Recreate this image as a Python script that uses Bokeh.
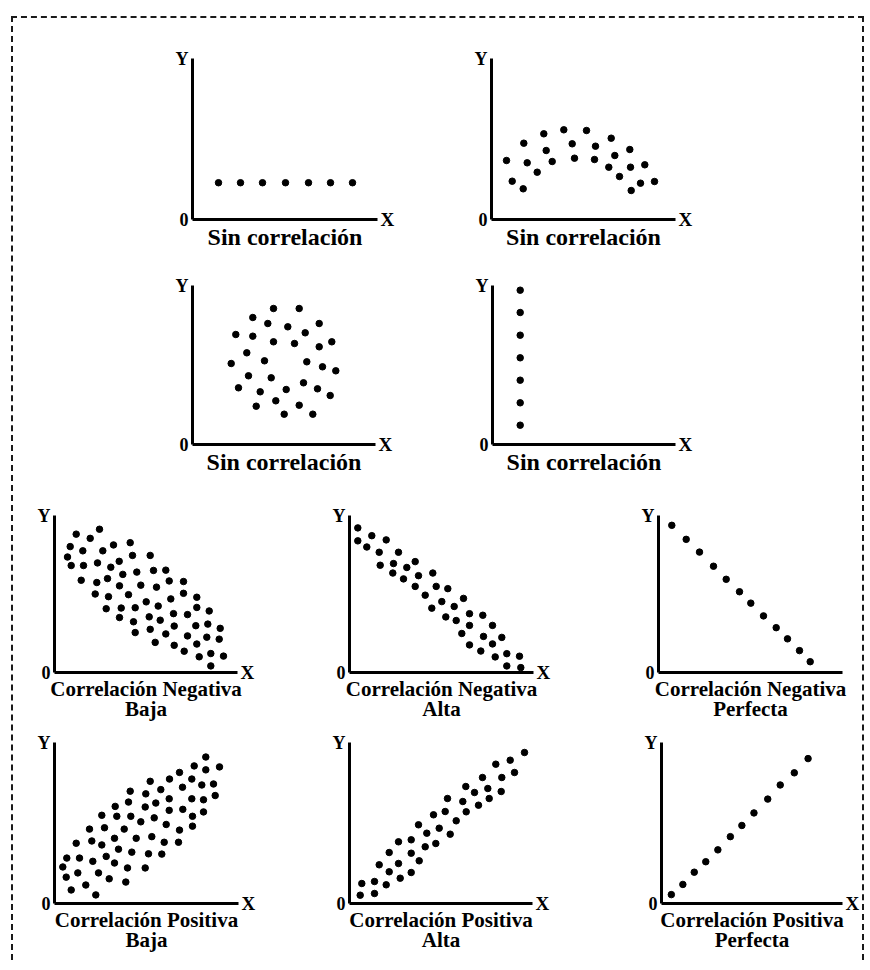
from bokeh.plotting import figure
from bokeh.models import Range1d, Spacer, FixedTicker, LinearAxis
from bokeh.layouts import row, column
from bokeh.embed import file_html
from bokeh.resources import INLINE

# ---------------- data (units = offset from the origin) -------------
titles = {
    "A": "Sin correlación", "B": "Sin correlación", "C": "Sin correlación", "D": "Sin correlación",
    "E": "Correlación Negativa\nBaja", "F": "Correlación Negativa\nAlta", "G": "Correlación Negativa\nPerfecta",
    "H": "Correlación Positiva\nBaja", "I": "Correlación Positiva\nAlta", "J": "Correlación Positiva\nPerfecta",
}
axis_names = {"y": "Y", "x": "X", "origin": "0"}

a_x = [26, 48, 70, 93, 116, 138, 160]
a_y = [37, 37, 37, 37, 37, 37, 37]

b_x = [15, 20.7, 31.7, 32.3, 35.7, 45.7, 52.3, 54.7, 60.7, 72.3, 80.7, 83, 95, 104, 103, 119.7, 123.3,
       117.3, 128, 138.3, 139, 139.7, 149, 153.3, 163]
b_y = [59, 38.3, 30.7, 76.3, 56.7, 47.3, 85.7, 69, 58, 89.7, 75.7, 61.3, 89, 73.3, 60, 81.3, 64,
       52.3, 43, 70, 52.3, 29, 36.3, 54.7, 38]

c_x = [81, 106.7, 60.3, 75.3, 126.7, 95.3, 43.3, 60.3, 112.7, 81, 102, 139.3, 126.7, 54.3, 38.7, 72,
       114.3, 130, 143.3, 56, 78.7, 111, 46, 67.7, 93.7, 125, 137.7, 83.3, 63.7, 106.7, 91.7, 120.3]
c_y = [136, 136, 127, 121, 121, 117.7, 110, 108.3, 111.7, 102.7, 101, 102.7, 97.7, 91.7, 81, 83.7,
       82.7, 77.7, 73.7, 68.7, 66.7, 61.7, 56.7, 52.7, 55, 55.7, 49, 43.7, 38.3, 39.3, 30.3, 30.3]

d_x = [27.7, 27.7, 27.7, 27.7, 27.7, 27.7, 27.7]
d_y = [154.3, 132, 109.3, 86.7, 64.3, 41.7, 19.3]

e_x = [45, 21.7, 35.7, 15.7, 59, 75.7, 28.3, 48.3, 13, 78, 95.7, 16.7, 29, 43, 56.3, 64.7, 26.7, 42.3,
       53, 68.3, 82.3, 99, 111.3, 65, 86.3, 102, 114.7, 129, 40.7, 54, 74, 91.7, 116.3, 129, 142.3,
       51.7, 66.7, 80.7, 103.7, 119, 133, 142.3, 154.7, 65, 79, 94.7, 105.7, 119.7, 141.3, 153.3, 165.7,
       80.7, 95.7, 111.3, 133, 142.3, 152.3, 164.7, 100.7, 119.7, 129.7, 144.7, 156.3, 169, 156.3]
e_y = [146, 141, 136.7, 128.3, 130, 132.3, 124, 124, 117.7, 119.3, 119.3, 109, 109, 111.7, 107.3, 113.3,
       94, 91.7, 95.7, 100, 102.3, 104, 104.3, 88.3, 89, 87, 93.3, 92.7, 80, 77.3, 79.3, 72, 75, 80.7,
       76.7, 65, 65.7, 66, 67.7, 60, 59, 66.3, 62.7, 56, 51.7, 56.7, 53.3, 47.3, 47.7, 49.3, 45,
       40.7, 44, 39.3, 37.3, 29, 36, 34, 30.7, 27.7, 21.7, 16, 19.3, 16.7, 6.7]

f_x = [8.3, 8.3, 22.3, 36.7, 17.3, 29.7, 49, 30.7, 44, 57.3, 65.7, 43.3, 54, 69, 83.3, 65.7, 86.7, 98.3,
       75.7, 92.3, 104.7, 114, 82.3, 96.3, 106.7, 120, 133.3, 112.3, 120, 134, 143, 120, 131.3, 143,
       152.3, 145.7, 157.3, 170, 157.3, 171.3]
f_y = [148.3, 135, 140.3, 136, 128.7, 123.3, 123.3, 110, 111.7, 107.7, 113.7, 102, 96, 99.3, 102, 88.3,
       88.3, 86, 79.3, 72.7, 67.7, 76, 66, 57, 53.3, 60.3, 58.7, 40, 48.3, 37, 48.3, 28.3, 22, 29.3,
       36, 16, 19.3, 16.7, 6.7, 5]

g_x = [13.3, 27.7, 41, 55, 67.7, 81, 92.3, 105, 117.7, 129, 141, 151.7]
g_y = [150, 135.7, 122.7, 108.3, 95, 82.3, 70.7, 57.7, 45.7, 34.3, 22.3, 11]

h_x = [151.3, 139.7, 151.3, 165, 125, 137.3, 147.3, 159, 115, 95.7, 128, 106.3, 75.7, 91.3, 74, 101.3,
       114.7, 137.3, 149, 160.7, 90.7, 60.7, 114.7, 128.3, 47.3, 62.3, 76.3, 99.7, 138, 149, 86.3,
       111.7, 35, 50, 69.7, 125, 138, 60, 81.7, 97.3, 109.7, 124, 21.7, 37.3, 47.3, 64, 77.3, 94,
       107.3, 12.3, 25, 38.3, 51.7, 60, 73, 90.7, 8.3, 23.3, 44, 11.7, 54.7, 71.3, 16.7, 31.3, 41.3]
h_y = [148.3, 139.3, 135.3, 138.3, 132.7, 126, 120, 121, 126, 123.7, 117.7, 115.3, 113.7, 111, 102.7,
       101.7, 106, 106, 105, 109.3, 97.7, 98.3, 94.3, 95.3, 89.3, 88.3, 88.3, 86.7, 88.3, 92.7, 82.7,
       80, 75.3, 76.7, 75.3, 74.3, 78.3, 66, 66, 67.7, 62, 62, 61, 63.3, 59.3, 55, 52, 50.3,
       50, 46, 46, 42.7, 47.7, 41, 36, 36, 37, 31, 31, 26.7, 25, 21.7, 13.7, 18.7, 8.7]

i_x = [175, 160.7, 146.3, 165, 152.3, 133, 116.3, 125, 138.3, 151.7, 98, 113.3, 129, 139.7, 84, 95.7,
       116.7, 106.7, 69, 77.3, 89.7, 100.7, 49, 61.7, 75.7, 86.3, 39.7, 61.7, 69.7, 29.7, 49, 39.7,
       61.7, 50.7, 12.3, 25, 36.7, 10.7, 25]
i_y = [151, 143.3, 139.3, 131, 126, 126, 117, 111, 115, 112, 105, 102, 98.3, 105, 88.7, 92,
       91.7, 82.7, 78.7, 70.3, 75.3, 69.3, 61.7, 63.7, 56.7, 60, 51, 50.3, 42.7, 38.7, 40, 31.7,
       31, 25.3, 20, 22, 18.7, 8.3, 10]

j_x = [10, 21.7, 33.3, 45, 57.3, 70, 81.7, 94, 108, 120.7, 135, 149]
j_y = [9, 19.3, 31.7, 42.3, 54.3, 67.7, 79, 91.7, 105.7, 120, 132.3, 146.7]

# ---------------- layout (pixels) ----------------
FONT = "Liberation Serif"


def style_axis(ax):
    ax.major_tick_out = 0
    ax.major_tick_in = 0
    ax.minor_tick_out = 0
    ax.minor_tick_in = 0
    ax.major_tick_line_color = None
    ax.minor_tick_line_color = None
    ax.major_label_text_font = FONT
    ax.major_label_text_font_style = "bold"
    ax.major_label_text_color = "black"


def panel(xs, ys, title, fw, fh, top, bottom, left=30, right=22, show_x=True, tsize="24px"):
    p = figure(width=left + fw + right, height=top + fh + bottom,
               x_range=Range1d(0, fw), y_range=Range1d(0, fh),
               output_backend="svg", toolbar_location=None,
               min_border_left=left, min_border_right=right,
               min_border_top=top, min_border_bottom=bottom)
    p.scatter(xs, ys, size=6.5, color="black")
    p.grid.visible = False
    p.outline_line_color = None

    # x axis: line + title underneath
    xa = p.xaxis[0]
    style_axis(xa)
    xa.ticker = FixedTicker(ticks=[])
    xa.major_label_text_font_size = "0px"
    xa.major_label_standoff = 0
    xa.axis_line_width = 3
    xa.axis_line_color = "black"
    xa.axis_label = title
    xa.axis_label_standoff = 4
    xa.axis_label_text_font = FONT
    xa.axis_label_text_font_style = "bold"
    xa.axis_label_text_font_size = tsize
    xa.axis_label_text_color = "black"
    xa.axis_label_text_line_height = 0.85

    # y axis: line, with "Y" at the top and "0" at the origin
    ya = p.yaxis[0]
    style_axis(ya)
    ya.ticker = FixedTicker(ticks=[0, fh])
    ya.major_label_overrides = {0: axis_names["origin"], fh: axis_names["y"]}
    ya.major_label_text_font_size = "18px"
    ya.major_label_standoff = 4
    ya.axis_line_width = 3
    ya.axis_line_color = "black"

    # "X" at the right end of the x axis
    if show_x:
        ra = LinearAxis(ticker=FixedTicker(ticks=[0]), major_label_overrides={0: axis_names["x"]},
                        axis_line_color=None, major_label_standoff=3)
        style_axis(ra)
        ra.major_label_text_font_size = "19px"
        p.add_layout(ra, "right")
    return p


pA = panel(a_x, a_y, titles["A"], 185, 162, 12, 53)
pB = panel(b_x, b_y, titles["B"], 184, 161, 13, 53)
pC = panel(c_x, c_y, titles["C"], 183, 159, 13, 55)
pD = panel(d_x, d_y, titles["D"], 183, 159, 13, 55)
pE = panel(e_x, e_y, titles["E"], 183, 160, 13, 55, tsize="21px")
pF = panel(f_x, f_y, titles["F"], 184, 161, 13, 54, tsize="21px")
pG = panel(g_x, g_y, titles["G"], 184, 160, 16, 52, right=15, show_x=False, tsize="21px")
pH = panel(h_x, h_y, titles["H"], 184, 163, 13, 57, tsize="21px")
pI = panel(i_x, i_y, titles["I"], 183, 161, 15, 57, tsize="21px")
pJ = panel(j_x, j_y, titles["J"], 184, 163, 15, 55, right=17, tsize="21px")

r1 = row(Spacer(width=149), pA, Spacer(width=62), pB)
r2 = row(Spacer(width=149), pC, Spacer(width=65), pD)
r3 = row(Spacer(width=11), pE, Spacer(width=60), pF, Spacer(width=73), pG)
r4 = row(Spacer(width=11), pH, Spacer(width=59), pI, Spacer(width=77), pJ)

dash = "2px dashed #1a1a1a"
box = column(Spacer(height=27), r1, r2, r3, r4,
             styles={"border-top": dash, "border-left": dash, "border-right": dash,
                     "background-color": "white"})
root = column(Spacer(height=16), row(Spacer(width=11), box))

open("out.html", "w").write(file_html(root, INLINE))
